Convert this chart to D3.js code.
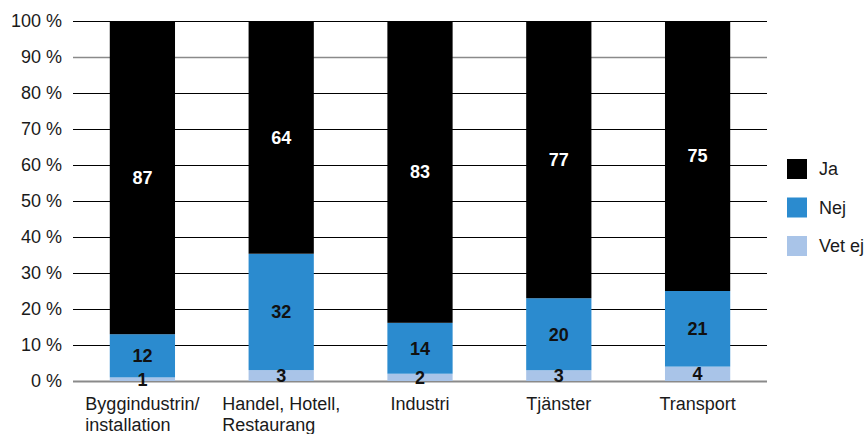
<!DOCTYPE html>
<html>
<head>
<meta charset="utf-8">
<script src="https://cdn.jsdelivr.net/npm/d3@7"></script>
<style>
  html, body { margin: 0; padding: 0; background: #fff; }
  svg { display: block; font-family: "Liberation Sans", Arial, Helvetica, sans-serif; }
</style>
</head>
<body>
<svg id="chart" width="867" height="434"></svg>
<script>
// Categories (line breaks are kept as separate lines)
const categories = [
  ["Byggindustrin/", "installation"],
  ["Handel, Hotell,", "Restaurang"],
  ["Industri"],
  ["Tjänster"],
  ["Transport"]
];
// Share of answers per category, in percent
const vetEj = [1, 3, 2, 3, 4];
const nej   = [12, 32, 14, 20, 21];
const ja    = [87, 64, 83, 77, 75];

const seriesNames = ["Vet ej", "Nej", "Ja"];
const legendOrder = ["Ja", "Nej", "Vet ej"];
const tickValues = [0, 10, 20, 30, 40, 50, 60, 70, 80, 90, 100];

const colors = { "Ja": "#000000", "Nej": "#2b8bcf", "Vet ej": "#a9c4e8" };
const labelColors = { "Ja": "#ffffff", "Nej": "#111111", "Vet ej": "#111111" };

const svg = d3.select("#chart");
const margin = { left: 73, right: 100, top: 21, bottom: 53 };
const W = 867, H = 434;

const x = d3.scaleBand()
  .domain(d3.range(categories.length))
  .range([margin.left, W - margin.right])
  .paddingInner(0.53)
  .paddingOuter(0.265);

const y = d3.scaleLinear().domain([0, 100]).range([H - margin.bottom, margin.top]);

// Table of rows, normalised to a 100 % stack
const rows = categories.map((c, i) => {
  const total = vetEj[i] + nej[i] + ja[i];
  return {
    i,
    "Vet ej": vetEj[i], "Nej": nej[i], "Ja": ja[i],
    total
  };
});
const stack = d3.stack()
  .keys(seriesNames)
  .value((d, k) => d[k] / d.total * 100);
const layers = stack(rows);

// Grid lines
const grid = svg.append("g");
grid.selectAll("line").data(tickValues).join("line")
  .attr("x1", margin.left).attr("x2", W - margin.right)
  .attr("y1", d => y(d) + 0.5).attr("y2", d => y(d) + 0.5)
  .attr("stroke", d => (d === 0 || d === 90) ? "#8a8a8a" : "#000")
  .attr("stroke-width", d => d === 0 ? 2 : (d === 90 ? 1.5 : 1));

// Y axis labels
svg.append("g").selectAll("text").data(tickValues).join("text")
  .attr("x", 62).attr("y", d => y(d))
  .attr("dy", "0.36em")
  .attr("text-anchor", "end")
  .attr("font-size", 18)
  .attr("fill", "#1a1a1a")
  .text(d => d + " %");

// Bars
const barG = svg.append("g");
layers.forEach(layer => {
  const key = layer.key;
  barG.append("g").selectAll("rect").data(layer).join("rect")
    .attr("x", d => x(d.data.i))
    .attr("width", x.bandwidth())
    .attr("y", d => y(d[1]))
    .attr("height", d => y(d[0]) - y(d[1]))
    .attr("fill", colors[key]);
});

// Value labels, centred in each segment
layers.forEach(layer => {
  const key = layer.key;
  barG.append("g").selectAll("text").data(layer).join("text")
    .attr("x", d => x(d.data.i) + x.bandwidth() / 2)
    .attr("y", d => (y(d[0]) + y(d[1])) / 2)
    .attr("dy", "0.36em")
    .attr("text-anchor", "middle")
    .attr("font-size", 18)
    .attr("font-weight", "bold")
    .attr("fill", labelColors[key])
    .text(d => d.data[key]);
});

// Category labels: left-aligned lines, block centred under the bar
const catG = svg.append("g");
categories.forEach((lines, i) => {
  const g = catG.append("g");
  const t = g.selectAll("text").data(lines).join("text")
    .attr("x", 0)
    .attr("y", (d, j) => 410 + j * 21)
    .attr("font-size", 18)
    .attr("fill", "#1a1a1a")
    .text(d => d);
  let maxW = 0;
  t.each(function() { maxW = Math.max(maxW, this.getComputedTextLength()); });
  const cx = x(i) + x.bandwidth() / 2;
  g.attr("transform", `translate(${cx - maxW / 2},0)`);
});

// Legend
const legend = svg.append("g");
legendOrder.forEach((name, k) => {
  const ly = 169 + k * 38.5;
  legend.append("rect")
    .attr("x", 787).attr("y", ly - 10)
    .attr("width", 20).attr("height", 20)
    .attr("fill", colors[name]);
  legend.append("text")
    .attr("x", 819).attr("y", ly)
    .attr("dy", "0.36em")
    .attr("font-size", 18)
    .attr("fill", "#1a1a1a")
    .text(name);
});
</script>
</body>
</html>
